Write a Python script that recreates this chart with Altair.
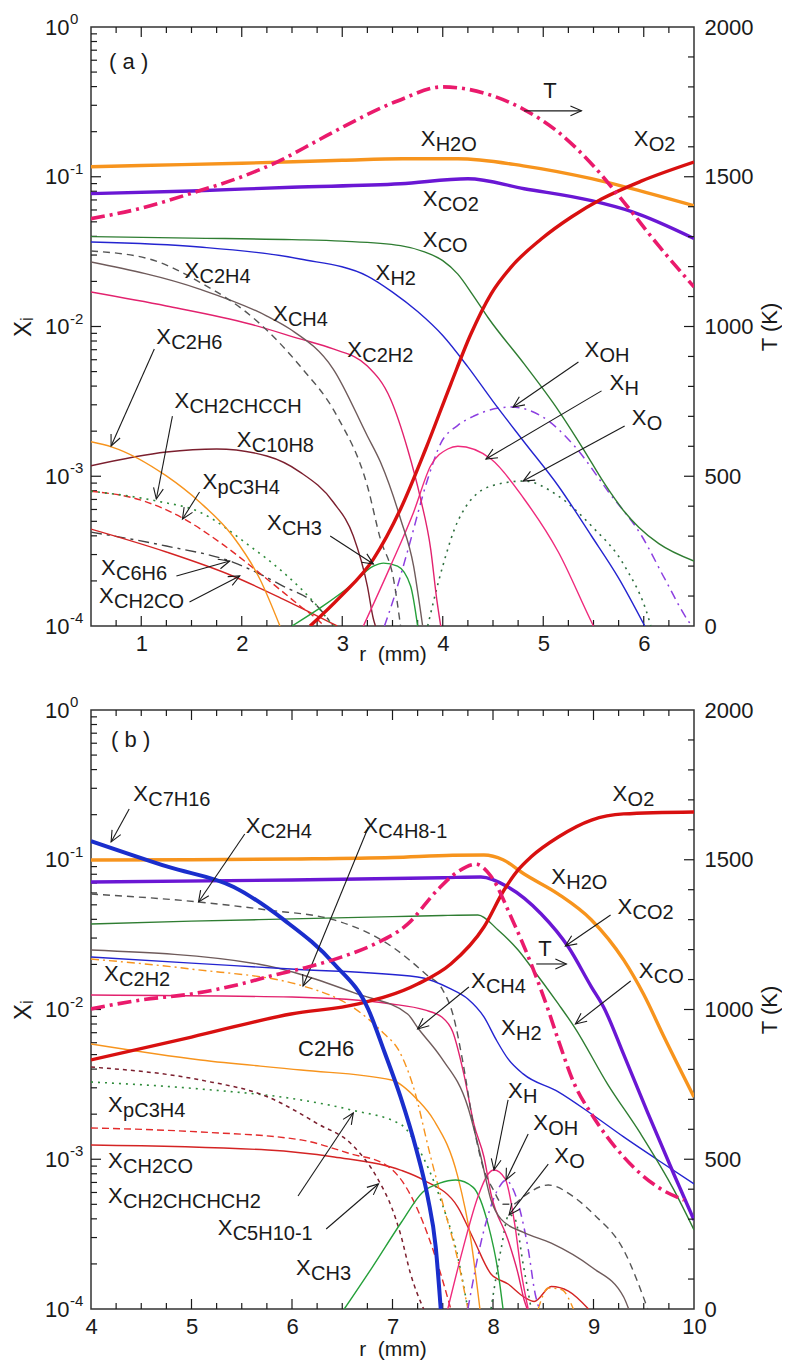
import math
import altair as alt
import pandas as pd

FONT = "Liberation Sans"
INK = "#1a1a1a"
W, H = 603, 599

# ======================= panel (a) =======================
# species given as log10(mole fraction); r in mm
a_T_r = [0.5, 1.0, 1.5, 2.0, 2.35, 2.75, 3.0, 3.55, 4.0, 4.5, 4.8, 5.15, 5.5, 5.8, 6.15, 6.5]
a_T_K = [1360, 1395, 1445, 1500, 1549, 1620, 1665, 1753, 1800, 1770, 1726, 1649, 1536, 1416, 1269, 1132]

a_H2O_r = [0.5, 1.0, 2.0, 3.0, 3.6, 4.15, 4.8, 5.48, 5.81, 6.5]
a_H2O_lg = [-0.933, -0.925, -0.91, -0.89, -0.88, -0.88, -0.927, -1.013, -1.067, -1.193]
a_CO2_r = [0.5, 1.5, 2.5, 3.58, 4.25, 4.81, 5.48, 5.88, 6.5]
a_CO2_lg = [-1.113, -1.095, -1.07, -1.047, -1.013, -1.08, -1.16, -1.233, -1.413]
a_O2_r = [2.68, 2.98, 3.31, 3.58, 3.83, 4.08, 4.28, 4.48, 4.68, 4.98, 5.28, 5.58, 5.98, 6.5]
a_O2_lg = [-4.0, -3.806, -3.553, -3.219, -2.818, -2.384, -2.05, -1.783, -1.603, -1.416, -1.269, -1.149, -1.028, -0.902]
a_CO_r = [0.5, 1.5, 2.5, 3.0, 3.58, 3.81, 4.0, 4.15, 4.3, 4.45, 4.81, 5.15, 5.4, 5.61, 5.8, 5.95, 6.15, 6.5]
a_CO_lg = [-1.40, -1.41, -1.42, -1.43, -1.46, -1.50, -1.56, -1.65, -1.79, -1.94, -2.25, -2.56, -2.82, -3.05, -3.23, -3.34, -3.45, -3.566]
a_H2_r = [0.5, 1.58, 2.58, 3.25, 3.5, 3.75, 4.0, 4.25, 4.5, 4.81, 5.15, 5.48, 5.75, 6.01]
a_H2_lg = [-1.436, -1.469, -1.549, -1.663, -1.77, -1.90, -2.06, -2.27, -2.50, -2.771, -3.065, -3.399, -3.68, -4.0]
a_C2H4_r = [0.5, 1.08, 1.58, 2.15, 2.58, 2.95, 3.25, 3.38, 3.51, 3.58]
a_C2H4_lg = [-1.496, -1.549, -1.703, -1.963, -2.264, -2.6, -3.065, -3.42, -3.686, -4.0]
a_CH4_r = [0.5, 1.58, 2.25, 2.48, 2.91, 3.25, 3.38, 3.58, 3.71, 3.78, 3.80]
a_CH4_lg = [-1.569, -1.75, -1.93, -2.017, -2.284, -2.731, -2.905, -3.285, -3.6, -3.906, -4.0]
a_C2H2_r = [0.5, 1.25, 2.08, 2.58, 2.91, 3.25, 3.48, 3.65, 3.78, 3.88, 3.94, 3.98]
a_C2H2_lg = [-1.77, -1.863, -1.983, -2.083, -2.15, -2.264, -2.484, -2.818, -3.152, -3.486, -3.82, -4.0]
a_C2H6_r = [0.5, 0.71, 1.25, 1.58, 1.91, 2.18, 2.38]
a_C2H6_lg = [-2.77, -2.805, -2.998, -3.172, -3.399, -3.686, -4.0]
a_C10H8_r = [0.5, 1.25, 1.75, 2.25, 2.58, 2.91, 3.11, 3.25, 3.31, 3.33]
a_C10H8_lg = [-2.93, -2.838, -2.818, -2.865, -2.972, -3.172, -3.399, -3.733, -3.953, -4.0]
a_CH2CHCCH_r = [0.5, 1.15, 1.58, 2.08, 2.41, 2.75, 2.88, 2.92]
a_CH2CHCCH_lg = [-3.1, -3.165, -3.239, -3.466, -3.64, -3.866, -3.973, -4.0]
a_pC3H4_r = [0.5, 1.0, 1.41, 1.8, 2.25, 2.58, 2.78, 2.82]
a_pC3H4_lg = [-3.1, -3.16, -3.279, -3.45, -3.686, -3.866, -3.973, -4.0]
a_C6H6_r = [0.5, 1.25, 1.91, 2.41, 2.75, 2.91]
a_C6H6_lg = [-3.373, -3.466, -3.573, -3.733, -3.866, -4.0]
a_CH2CO_r = [0.5, 1.25, 1.91, 2.41, 2.95]
a_CH2CO_lg = [-3.353, -3.506, -3.666, -3.82, -4.0]
a_CH3_r = [2.5, 2.81, 3.08, 3.31, 3.41, 3.55, 3.68, 3.75]
a_CH3_lg = [-4.0, -3.866, -3.733, -3.6, -3.58, -3.6, -3.733, -4.0]
a_OH_r = [3.42, 3.52, 3.65, 3.85, 3.98, 4.15, 4.31, 4.68, 4.98, 5.31, 5.65, 5.98, 6.21, 6.45, 6.48]
a_OH_lg = [-4.0, -3.8, -3.5, -3.02, -2.78, -2.66, -2.598, -2.538, -2.598, -2.798, -3.105, -3.399, -3.686, -3.973, -4.0]
a_H_r = [3.21, 3.48, 3.71, 3.88, 4.05, 4.15, 4.48, 4.81, 5.15, 5.48, 5.5]
a_H_lg = [-4.0, -3.6, -3.24, -2.93, -2.818, -2.8, -2.885, -3.152, -3.506, -3.973, -4.0]
a_O_r = [3.85, 4.0, 4.15, 4.48, 4.81, 5.15, 5.48, 5.81, 6.05, 6.07]
a_O_lg = [-4.0, -3.6, -3.3, -3.065, -3.032, -3.132, -3.332, -3.6, -3.953, -4.0]

a_lab_r = [0.68, 3.78, 5.90, 3.80, 3.80, 3.33, 1.43, 2.31, 3.05, 1.15, 1.33, 1.95, 1.61, 2.25, 0.60, 0.58, 5.41, 5.66, 5.88]
a_lab_lg = [-0.234, -0.748, -0.748, -1.149, -1.422, -1.643, -1.629, -1.917, -2.157, -2.07, -2.497, -2.758, -3.038, -3.312, -3.613, -3.80, -2.157, -2.377, -2.611]
a_lab_main = ["( a )"] + ["X"] * 18
a_lab_sub = ["", "H2O", "O2", "CO2", "CO", "H2", "C2H4", "CH4", "C2H2", "C2H6", "CH2CHCCH", "C10H8",
             "pC3H4", "CH3", "C6H6", "CH2CO", "OH", "H", "O"]

a_arr_r0 = [1.13, 1.31, 1.58, 2.88, 1.35, 1.48, 5.35, 5.58, 5.81]
a_arr_lg0 = [-2.15, -2.598, -3.105, -3.399, -3.666, -3.84, -2.237, -2.43, -2.664]
a_arr_r1 = [0.70, 1.15, 1.41, 3.31, 1.88, 1.98, 4.70, 4.43, 4.80]
a_arr_lg1 = [-2.798, -3.152, -3.286, -3.586, -3.566, -3.666, -2.538, -2.885, -3.032]

a_Tlab_r, a_Tlab_K = [5.0], [1786]
a_Tarr_r0, a_Tarr_r1, a_Tarr_K = [4.81], [5.38], [1720]

# ======================= panel (b) =======================
b_T_r = [4.0, 4.5, 5.0, 5.49, 5.82, 6.16, 6.49, 6.82, 7.15, 7.45, 7.65, 7.83, 7.98, 8.18, 8.38, 8.55, 8.65, 8.81, 8.98, 9.3, 9.64, 9.9]
b_T_K = [1002, 1032, 1052, 1085, 1115, 1142, 1175, 1218, 1285, 1400, 1460, 1485, 1445, 1309, 1152, 998, 898, 751, 651, 508, 407, 364]

b_H2O_r = [4.0, 5.0, 6.0, 7.0, 7.6, 7.91, 8.1, 8.31, 8.65, 8.98, 9.3, 9.5, 9.7, 10.0]
b_H2O_lg = [-1.002, -1.0, -0.995, -0.985, -0.97, -0.968, -1.0, -1.095, -1.229, -1.402, -1.669, -1.9, -2.18, -2.584]
b_CO2_r = [4.0, 6.0, 7.5, 7.88, 8.15, 8.48, 8.75, 8.98, 9.1, 9.3, 9.54, 9.8, 10.0]
b_CO2_lg = [-1.149, -1.135, -1.12, -1.115, -1.182, -1.362, -1.583, -1.85, -1.983, -2.30, -2.69, -3.1, -3.406]
b_O2_r = [4.0, 5.0, 5.99, 6.66, 7.25, 7.58, 7.91, 8.11, 8.25, 8.38, 8.65, 8.98, 9.3, 10.0]
b_O2_lg = [-2.337, -2.184, -2.03, -1.963, -1.83, -1.696, -1.449, -1.202, -1.068, -0.98, -0.848, -0.735, -0.694, -0.681]
b_C7H16_r = [4.0, 4.77, 5.42, 5.92, 6.42, 6.76, 6.92, 7.08, 7.23, 7.35, 7.43, 7.48]
b_C7H16_lg = [-0.875, -1.048, -1.182, -1.402, -1.696, -2.0, -2.284, -2.584, -2.918, -3.252, -3.586, -4.0]
b_CO_r = [4.0, 5.0, 6.0, 7.0, 7.5, 7.85, 8.05, 8.25, 8.38, 8.65, 8.81, 9.14, 9.47, 9.8, 10.0]
b_CO_lg = [-1.429, -1.41, -1.395, -1.38, -1.372, -1.369, -1.469, -1.603, -1.716, -1.963, -2.117, -2.498, -2.831, -3.205, -3.472]
b_H2_r = [4.0, 5.0, 5.99, 7.25, 7.58, 7.75, 7.91, 8.03, 8.15, 8.3, 8.65, 8.98, 9.3, 9.64, 10.0]
b_H2_lg = [-1.649, -1.69, -1.73, -1.783, -1.863, -1.93, -2.05, -2.2, -2.33, -2.43, -2.55, -2.698, -2.851, -3.005, -3.165]
b_C2H4_r = [4.0, 5.07, 5.76, 6.42, 7.0, 7.33, 7.5, 7.6, 7.7, 7.8, 7.9, 8.0, 8.1, 8.2, 8.3, 8.55, 8.8, 9.0, 9.3, 9.54]
b_C2H4_lg = [-1.229, -1.282, -1.336, -1.402, -1.583, -1.763, -1.87, -2.03, -2.35, -2.75, -3.05, -3.2, -3.3, -3.3, -3.25, -3.172, -3.25, -3.366, -3.606, -4.0]
b_CH4_r = [4.0, 5.66, 6.65, 7.15, 7.26, 7.48, 7.75, 7.88, 7.98, 8.08, 8.31, 8.58, 8.98, 9.3, 9.35]
b_CH4_lg = [-1.603, -1.696, -1.896, -2.03, -2.13, -2.317, -2.651, -2.985, -3.272, -3.40, -3.49, -3.56, -3.72, -3.92, -4.0]
b_C2H2_r = [4.0, 6.0, 6.99, 7.32, 7.49, 7.6, 7.71, 7.81, 7.91, 7.98, 8.15, 8.25, 8.31, 8.34]
b_C2H2_lg = [-1.903, -1.917, -1.963, -2.003, -2.05, -2.15, -2.431, -2.765, -2.985, -3.232, -3.539, -3.766, -3.94, -4.0]
b_C2H6_r = [4.0, 5.09, 6.09, 6.99, 7.25, 7.41, 7.65, 7.78, 7.87]
b_C2H6_lg = [-2.23, -2.337, -2.404, -2.471, -2.604, -2.738, -3.118, -3.539, -4.0]
b_C4H8_r = [4.0, 5.0, 6.11, 6.6, 6.92, 7.06, 7.2, 7.38, 7.51, 7.65, 7.75]
b_C4H8_lg = [-1.663, -1.73, -1.843, -1.983, -2.164, -2.27, -2.5, -2.985, -3.319, -3.673, -4.0]
b_C4H8b_r = [8.45, 8.55, 8.68, 8.8]
b_C4H8b_lg = [-4.0, -3.86, -3.87, -4.0]
b_pC3H4_r = [4.0, 5.09, 6.09, 6.59, 6.92, 7.1, 7.31, 7.48, 7.58]
b_pC3H4_lg = [-2.791, -2.818, -2.871, -2.965, -3.032, -3.15, -3.432, -3.766, -4.0]
b_C4H6_r = [4.0, 5.09, 6.09, 6.59, 7.09, 7.25, 7.48, 7.65, 7.75]
b_C4H6_lg = [-2.484, -2.531, -2.604, -2.671, -2.771, -2.918, -3.272, -3.653, -4.0]
b_C5H10_r = [4.0, 5.09, 5.76, 6.26, 6.59, 6.86, 6.99, 7.08, 7.18, 7.31]
b_C5H10_lg = [-2.384, -2.471, -2.584, -2.765, -2.898, -3.139, -3.319, -3.5, -3.766, -4.0]
b_CH2CO_r = [4.0, 5.76, 6.42, 7.08, 7.31, 7.65, 7.81, 7.98, 8.15, 8.31, 8.41, 8.58, 8.75, 8.95]
b_CH2CO_lg = [-2.905, -2.938, -2.985, -3.072, -3.139, -3.319, -3.539, -3.766, -3.833, -3.92, -3.95, -3.85, -3.88, -4.0]
b_CH3_r = [6.52, 6.8, 7.09, 7.3, 7.47, 7.63, 7.8, 7.95, 8.05, 8.1]
b_CH3_lg = [-4.0, -3.72, -3.419, -3.22, -3.16, -3.139, -3.186, -3.432, -3.75, -4.0]
b_H_r = [7.55, 7.7, 7.85, 7.95, 8.01, 8.12, 8.22, 8.28, 8.35]
b_H_lg = [-4.0, -3.6, -3.25, -3.1, -3.072, -3.13, -3.45, -3.75, -4.0]
b_OH_r = [7.75, 7.9, 8.05, 8.13, 8.2, 8.35, 8.42, 8.46]
b_OH_lg = [-4.0, -3.5, -3.2, -3.14, -3.2, -3.6, -3.9, -4.0]
b_O_r = [7.98, 8.08, 8.16, 8.22, 8.3, 8.38]
b_O_lg = [-4.0, -3.6, -3.37, -3.4, -3.7, -4.0]

b_lab_r = [4.20, 4.42, 5.54, 6.71, 9.19, 8.58, 9.24, 9.45, 7.78, 8.08, 4.13, 6.06, 4.17, 4.17, 4.17, 5.26, 6.04, 8.15, 8.40, 8.61]
b_lab_lg = [-0.2, -0.561, -0.775, -0.775, -0.561, -1.115, -1.316, -1.743, -1.81, -2.124, -1.763, -2.264,
            -2.638, -3.012, -3.245, -3.459, -3.726, -2.544, -2.758, -2.978]
b_lab_main = ["( b )"] + ["X"] * 10 + ["C2H6"] + ["X"] * 8
b_lab_sub = ["", "C7H16", "C2H4", "C4H8-1", "O2", "H2O", "CO2", "CO", "CH4", "H2", "C2H2", "",
             "pC3H4", "CH2CO", "CH2CHCHCH2", "C5H10-1", "CH3", "H", "OH", "O"]

b_arr_r0 = [4.38, 5.53, 6.76, 9.17, 9.37, 7.76, 6.06, 6.34, 8.15, 8.35, 8.55]
b_arr_lg0 = [-0.661, -0.828, -0.781, -1.369, -1.81, -1.85, -3.245, -3.466, -2.604, -2.831, -3.032]
b_arr_r1 = [4.20, 5.07, 6.11, 8.72, 8.82, 7.25, 6.61, 6.86, 8.01, 8.13, 8.16]
b_arr_lg1 = [-0.881, -1.282, -1.843, -1.576, -2.097, -2.13, -2.691, -3.165, -3.072, -3.138, -3.372]

b_Tlab_r, b_Tlab_K = [8.45], [1202]
b_Tarr_r0, b_Tarr_r1, b_Tarr_K = [8.43], [8.73], [1152]

# left-axis decades and their exponents (drawn as "10" + raised exponent)
dec_vals = [1e-4, 1e-3, 1e-2, 1e-1, 1]
dec_exp = ["-4", "-3", "-2", "-1", "0"]

# ======================= styles =======================
STYLE = {
    "H2O": ("#f7941d", None, 3.4), "CO2": ("#6a17d4", None, 3.4), "O2": ("#d81010", None, 3.4),
    "C7H16": ("#1a2ecc", None, 4.0),
    "CO": ("#2f7d32", None, 1.4), "H2": ("#2424d0", None, 1.4), "C2H4": ("#555555", [7, 5], 1.4),
    "CH4": ("#6f5b5b", None, 1.4), "C2H2": ("#e2226e", None, 1.4), "C2H6": ("#f7941d", None, 1.4),
    "CH2CHCCH": ("#2e8b3a", [2, 5], 1.6), "CH2CHCHCH2": ("#2e8b3a", [2, 5], 1.6),
    "pC3H4": ("#e32b2b", [7, 4], 1.4), "C10H8": ("#7b1f2e", None, 1.4), "C6H6": ("#444444", [11, 5, 3, 5], 1.4),
    "CH2CO": ("#d42424", None, 1.4), "CH3": ("#25a03a", None, 1.4), "OH": ("#8c3fe0", [9, 5, 2, 5], 1.5),
    "H": ("#ef2a7c", None, 1.4), "O": ("#2f6f3f", [2, 5], 1.6), "C4H8-1": ("#f7941d", [8, 4, 2, 4], 1.4),
    "C5H10-1": ("#7b1f2e", [4, 4], 1.5),
}
T_COLOR = "#ea1a6c"

a_series = [("C6H6", a_C6H6_r, a_C6H6_lg), ("CH2CO", a_CH2CO_r, a_CH2CO_lg), ("pC3H4", a_pC3H4_r, a_pC3H4_lg),
            ("CH2CHCCH", a_CH2CHCCH_r, a_CH2CHCCH_lg), ("C10H8", a_C10H8_r, a_C10H8_lg), ("C2H6", a_C2H6_r, a_C2H6_lg),
            ("CH3", a_CH3_r, a_CH3_lg), ("O", a_O_r, a_O_lg), ("OH", a_OH_r, a_OH_lg), ("H", a_H_r, a_H_lg),
            ("C2H2", a_C2H2_r, a_C2H2_lg), ("CH4", a_CH4_r, a_CH4_lg), ("C2H4", a_C2H4_r, a_C2H4_lg),
            ("H2", a_H2_r, a_H2_lg), ("CO", a_CO_r, a_CO_lg),
            ("CO2", a_CO2_r, a_CO2_lg), ("H2O", a_H2O_r, a_H2O_lg), ("O2", a_O2_r, a_O2_lg)]
b_series = [("CH2CO", b_CH2CO_r, b_CH2CO_lg), ("pC3H4", b_pC3H4_r, b_pC3H4_lg), ("CH2CHCHCH2", b_C4H6_r, b_C4H6_lg),
            ("C5H10-1", b_C5H10_r, b_C5H10_lg), ("C2H6", b_C2H6_r, b_C2H6_lg), ("C4H8-1", b_C4H8_r, b_C4H8_lg),
            ("C4H8-1", b_C4H8b_r, b_C4H8b_lg), ("CH3", b_CH3_r, b_CH3_lg), ("O", b_O_r, b_O_lg),
            ("OH", b_OH_r, b_OH_lg), ("H", b_H_r, b_H_lg), ("C2H2", b_C2H2_r, b_C2H2_lg),
            ("CH4", b_CH4_r, b_CH4_lg), ("C2H4", b_C2H4_r, b_C2H4_lg), ("H2", b_H2_r, b_H2_lg),
            ("CO", b_CO_r, b_CO_lg), ("CO2", b_CO2_r, b_CO2_lg), ("H2O", b_H2O_r, b_H2O_lg),
            ("O2", b_O2_r, b_O2_lg), ("C7H16", b_C7H16_r, b_C7H16_lg)]

YS = alt.Scale(type="log", domain=[1e-4, 1], nice=False)
TS = alt.Scale(domain=[0, 2000], nice=False, zero=True)
HEAD = "M -1 -0.45 L 0 0 L -1 0.45"
XTITLE = "r\u00a0\u00a0(mm)"


def txt(**kw):
    base = dict(labelFont=FONT, labelFontSize=22, labelColor=INK, titleFont=FONT, titleFontSize=22,
                titleFontWeight="normal", titleColor=INK, ticks=False, domain=False, grid=False,
                labelFlush=False, labelOverlap=False)
    base.update(kw)
    return alt.Axis(**base)


def angles(r0, v0, r1, v1, xdom, per_h):
    out = []
    for a, b, c, d in zip(r0, v0, r1, v1):
        dx = (c - a) / (xdom[1] - xdom[0]) * W
        dy = -(d - b) * per_h
        out.append(math.degrees(math.atan2(dy, dx)) % 360)
    return out


def panel(xdom, xlab_vals, series, T_r, T_K, lab, arr, tlab, tarr, xtitle_pad):
    xs = alt.Scale(domain=xdom, nice=False, zero=False)
    xaxis = txt(values=xlab_vals, format="d", labelPadding=7, title=XTITLE, titleFontSize=21,
                titlePadding=xtitle_pad)
    yaxis = txt(values=dec_vals, labelExpr="'10'", labelPadding=22, title="Xᵢ",
                titleFontSize=24, titlePadding=9)
    taxis = txt(orient="right", values=[0, 500, 1000, 1500, 2000], format="d", labelPadding=10,
                title="T (K)", titleAngle=270, titleBaseline="top", titlePadding=7)
    # the same axis object on every layer, so the layers merge into one axis per side
    X = lambda f: alt.X(f"{f}:Q", scale=xs, axis=xaxis)
    Y = lambda f: alt.Y(f"{f}:Q", scale=YS, axis=yaxis)
    TY = lambda f: alt.Y(f"{f}:Q", scale=TS, axis=taxis)

    quarter = [xdom[0] + 0.25 * i for i in range(1, int((xdom[1] - xdom[0]) * 4))]
    x_major = pd.DataFrame({"v": [q for q in quarter if abs(q - round(q)) < 1e-9]})
    x_minor = pd.DataFrame({"v": [q for q in quarter if abs(q - round(q)) > 1e-9]})
    y_major = pd.DataFrame({"v": [1e-3, 1e-2, 1e-1]})
    y_minor = pd.DataFrame({"v": [k * 10.0 ** d for d in range(-4, 0) for k in range(2, 10)]})
    t_major = pd.DataFrame({"v": [500, 1000, 1500]})
    t_minor = pd.DataFrame({"v": [t for t in range(100, 2000, 100) if t % 500]})
    expo = pd.DataFrame({"v": dec_vals, "e": dec_exp})

    rule = dict(color=INK, strokeWidth=1.2)
    logl = [
        alt.Chart(x_major).mark_rule(**rule).encode(x=X("v"), y=alt.value(H), y2=alt.value(H - 10)),
        alt.Chart(x_minor).mark_rule(**rule).encode(x=X("v"), y=alt.value(H), y2=alt.value(H - 6)),
        alt.Chart(x_major).mark_rule(**rule).encode(x=X("v"), y=alt.value(0), y2=alt.value(10)),
        alt.Chart(x_minor).mark_rule(**rule).encode(x=X("v"), y=alt.value(0), y2=alt.value(6)),
        alt.Chart(y_major).mark_rule(**rule).encode(y=Y("v"), x=alt.value(0), x2=alt.value(10)),
        alt.Chart(y_minor).mark_rule(**rule).encode(y=Y("v"), x=alt.value(0), x2=alt.value(6)),
        # raised exponents of the left-axis "10" labels
        alt.Chart(expo).mark_text(align="left", baseline="middle", font=FONT, fontSize=15, color=INK, dy=-8)
        .encode(y=Y("v"), x=alt.value(-21), text="e:N"),
    ]
    for key, r, lg in series:
        col, dash, wd = STYLE[key]
        kw = dict(color=col, strokeWidth=wd, interpolate="monotone", clip=True)
        if dash:
            kw["strokeDash"] = dash
        df = pd.DataFrame({"r": r, "X": [10 ** v for v in lg]})
        logl.append(alt.Chart(df).mark_line(**kw).encode(x=X("r"), y=Y("X")))

    lr, llg, lmain, lsub = lab
    ldf = pd.DataFrame({"r": lr, "X": [10 ** v for v in llg], "m": lmain, "s": lsub})
    logl.append(alt.Chart(ldf).mark_text(align="left", baseline="middle", font=FONT, fontSize=22, color=INK)
                .encode(x=X("r"), y=Y("X"), text="m:N"))
    logl.append(alt.Chart(ldf).mark_text(align="left", baseline="middle", font=FONT, fontSize=20, color=INK,
                                         dx=15, dy=6)
                .encode(x=X("r"), y=Y("X"), text="s:N"))

    r0, v0, r1, v1 = arr
    adf = pd.DataFrame({"r0": r0, "X0": [10 ** v for v in v0], "r1": r1, "X1": [10 ** v for v in v1],
                        "ang": angles(r0, v0, r1, v1, xdom, H / 4.0)})
    logl.append(alt.Chart(adf).mark_rule(color=INK, strokeWidth=1.1)
                .encode(x=X("r0"), y=Y("X0"), x2="r1", y2="X1"))
    logl.append(alt.Chart(adf).mark_point(shape=HEAD, filled=False, size=484, color=INK, strokeWidth=1.1,
                                          opacity=1)
                .encode(x=X("r1"), y=Y("X1"), angle=alt.Angle("ang:Q", scale=None)))

    tdf = pd.DataFrame({"r": T_r, "T": T_K})
    tl_r, tl_K = tlab
    ta_r0, ta_r1, ta_K = tarr
    tadf = pd.DataFrame({"r0": ta_r0, "r1": ta_r1, "T": ta_K, "ang": [0.0] * len(ta_K)})
    tlayers = [
        alt.Chart(tdf).mark_line(color=T_COLOR, strokeWidth=3.6, strokeDash=[14, 5, 3, 5],
                                 interpolate="monotone", clip=True)
        .encode(x=X("r"), y=TY("T")),
        alt.Chart(t_major).mark_rule(**rule).encode(y=TY("v"), x=alt.value(W - 10), x2=alt.value(W)),
        alt.Chart(t_minor).mark_rule(**rule).encode(y=TY("v"), x=alt.value(W - 6), x2=alt.value(W)),
        alt.Chart(pd.DataFrame({"r": tl_r, "T": tl_K, "m": ["T"] * len(tl_r)}))
        .mark_text(align="left", baseline="middle", font=FONT, fontSize=22, color=INK)
        .encode(x=X("r"), y=TY("T"), text="m:N"),
        alt.Chart(tadf).mark_rule(color=INK, strokeWidth=1.1).encode(x=X("r0"), x2="r1", y=TY("T")),
        alt.Chart(tadf).mark_point(shape=HEAD, filled=False, size=484, color=INK, strokeWidth=1.1, opacity=1)
        .encode(x=X("r1"), y=TY("T"), angle=alt.Angle("ang:Q", scale=None)),
    ]
    return (alt.layer(alt.layer(*logl), alt.layer(*tlayers))
            .resolve_scale(y="independent").properties(width=W, height=H))


pa = panel([0.5, 6.5], [1, 2, 3, 4, 5, 6], a_series, a_T_r, a_T_K,
           (a_lab_r, a_lab_lg, a_lab_main, a_lab_sub), (a_arr_r0, a_arr_lg0, a_arr_r1, a_arr_lg1),
           (a_Tlab_r, a_Tlab_K), (a_Tarr_r0, a_Tarr_r1, a_Tarr_K), -11)
pb = panel([4, 10], [4, 5, 6, 7, 8, 9, 10], b_series, b_T_r, b_T_K,
           (b_lab_r, b_lab_lg, b_lab_main, b_lab_sub), (b_arr_r0, b_arr_lg0, b_arr_r1, b_arr_lg1),
           (b_Tlab_r, b_Tlab_K), (b_Tarr_r0, b_Tarr_r1, b_Tarr_K), 1)

chart = (alt.vconcat(pa, pb, spacing=84, bounds="flush")
         .properties(padding={"left": 2, "top": 3, "right": 0, "bottom": 0})
         .configure_axis(grid=False, ticks=False, domain=False)
         .configure_view(stroke="#333333", strokeWidth=1.5))

chart.save("out.html", embed_options={"renderer": "svg", "actions": False})
